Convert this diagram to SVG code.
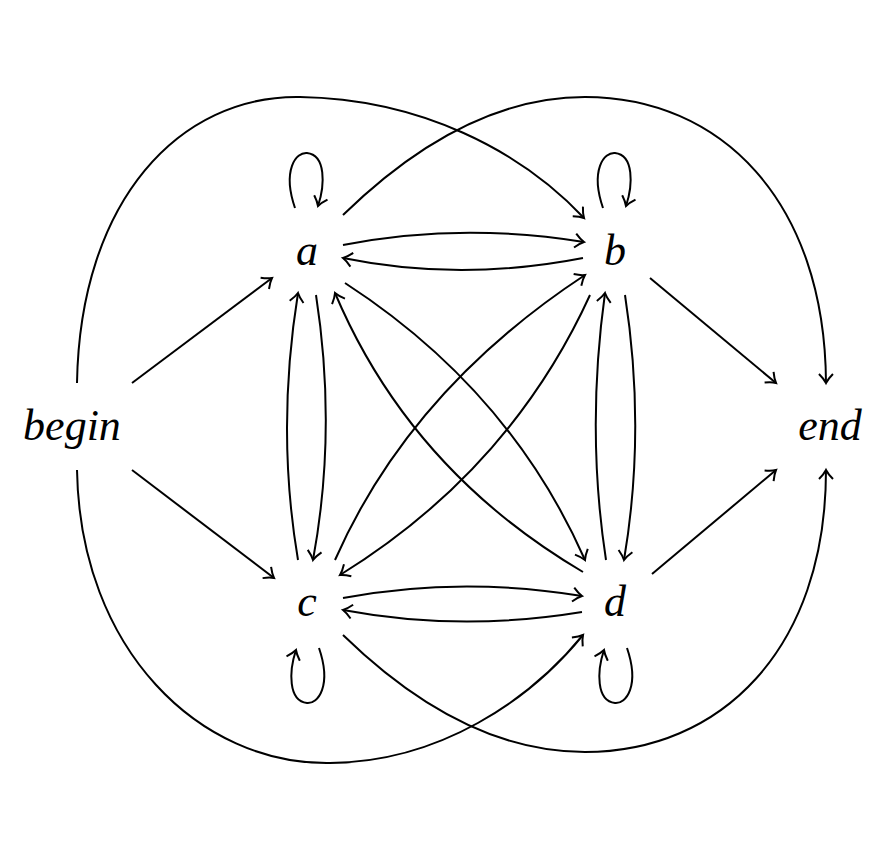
<svg xmlns="http://www.w3.org/2000/svg" width="885" height="853" viewBox="0 0 885 853">
<style>
text{font-family:"Liberation Serif",serif;font-style:italic;font-size:44px;text-anchor:middle;fill:#000}
.e{fill:none;stroke:#000;stroke-width:2;marker-end:url(#ar)}
</style>
<defs>
<marker id="ar" markerUnits="userSpaceOnUse" markerWidth="20" markerHeight="20" viewBox="-10 -10 20 20" refX="0" refY="0" orient="auto">
<path d="M-9,-7 C-5,-3 -2,-1 0,0 C-2,1 -5,3 -9,7" fill="none" stroke="#000" stroke-width="2"/>
</marker>
</defs>
<rect width="885" height="853" fill="#fff"/>
<g id="connectors">
<path class="e" d="M132,383 L272,278"/>
<path class="e" d="M132,470 L274,578"/>
<path class="e" d="M650,278 L776,383"/>
<path class="e" d="M652,574 L776,470"/>
<path class="e" d="M77,383 C80,200 180,95 300,97 C420,99 520,150 584,218"/>
<path class="e" d="M343,215 C420,140 500,97 585,97 C720,97 825,200 826,383"/>
<path class="e" d="M77,470 C80,650 200,765 330,763 C440,762 530,700 583,635"/>
<path class="e" d="M343,635 C420,710 500,752 585,752 C720,752 826,650 826,470"/>
<path class="e" d="M343,245 Q460,222 584,242"/>
<path class="e" d="M583,258 Q460,282 343,258"/>
<path class="e" d="M343,598 Q460,576 582,596"/>
<path class="e" d="M582,612 Q460,632 343,610"/>
<path class="e" d="M316,295 Q337,430 313,560"/>
<path class="e" d="M298,560 Q276,430 298,293"/>
<path class="e" d="M625,295 Q646,430 624,560"/>
<path class="e" d="M606,560 Q586,430 605,293"/>
<path class="e" d="M345,283 Q510,390 585,560"/>
<path class="e" d="M583,572 Q410,470 335,293"/>
<path class="e" d="M590,295 Q510,470 340,575"/>
<path class="e" d="M335,560 Q410,390 585,275"/>
<path class="e" d="M295,208 C282,170 296,152 307,153 C326,155 325,185 318,206"/>
<path class="e" d="M603,208 C590,170 604,152 615,153 C634,155 633,185 626,206"/>
<path class="e" d="M319,648 C332,686 318,704 307,703 C288,701 289,671 296,650"/>
<path class="e" d="M627,648 C640,686 626,704 615,703 C596,701 597,671 604,650"/>
</g>
<g id="begin"><text x="72" y="440">begin</text></g>
<g id="end"><text x="830" y="440">end</text></g>
<g id="a"><text x="307" y="265">a</text></g>
<g id="b"><text x="615" y="265">b</text></g>
<g id="c"><text x="307" y="616">c</text></g>
<g id="d"><text x="615" y="616">d</text></g>
</svg>
